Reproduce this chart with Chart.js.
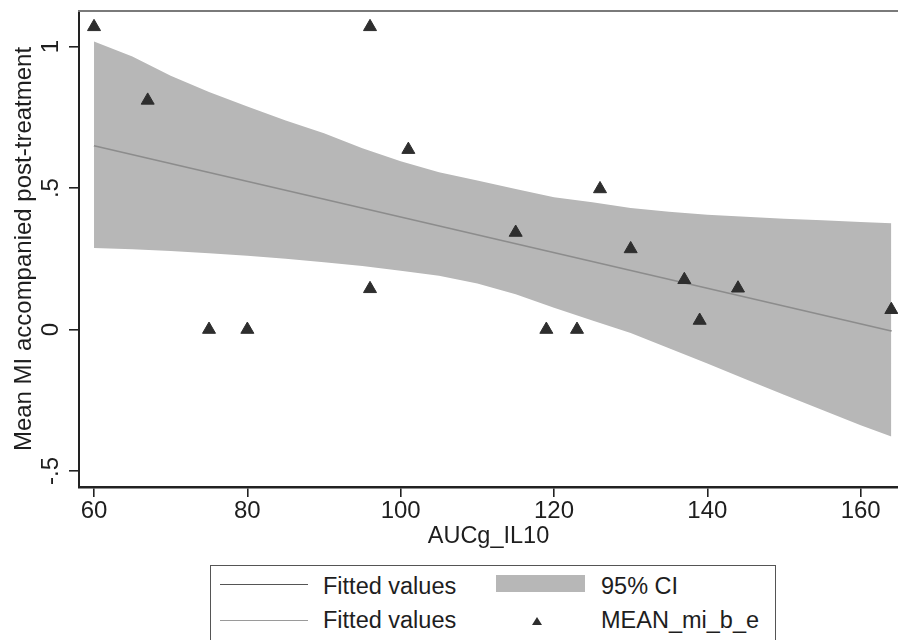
<!DOCTYPE html>
<html>
<head>
<meta charset="utf-8">
<script src="https://cdn.jsdelivr.net/npm/chart.js@4.4.1/dist/chart.umd.min.js"></script>
<style>
html,body{margin:0;padding:0;background:#fff;}
#wrap{position:relative;width:898px;height:640px;overflow:hidden;font-family:"Liberation Sans",Arial,sans-serif;color:#1e1e1e;}
#c{position:absolute;left:0;top:0;}
.lg-box{position:absolute;left:210px;top:565px;width:566px;height:100px;border:1.5px solid #555;box-sizing:border-box;}
.lg-line{position:absolute;left:220px;width:88px;height:0;}
.lg-text{position:absolute;font-size:23.5px;line-height:23.5px;white-space:nowrap;}
.lg-rect{position:absolute;left:496px;top:575px;width:89px;height:17px;background:#b7b7b7;}
.lg-tri{position:absolute;left:532px;top:617px;width:0;height:0;border-left:5px solid transparent;border-right:5px solid transparent;border-bottom:8.5px solid #2e2e2e;}
</style>
</head>
<body>
<div id="wrap">
  <canvas id="c" width="898" height="555"></canvas>
  <div class="lg-box"></div>
  <div class="lg-line" style="top:584px;border-top:1.6px solid #555;"></div>
  <div class="lg-text" style="left:323px;top:575px;">Fitted values</div>
  <div class="lg-rect"></div>
  <div class="lg-text" style="left:601px;top:575px;">95% CI</div>
  <div class="lg-line" style="top:620px;border-top:1.6px solid #9a9a9a;"></div>
  <div class="lg-text" style="left:323px;top:609px;">Fitted values</div>
  <div class="lg-tri"></div>
  <div class="lg-text" style="left:601px;top:609px;">MEAN_mi_b_e</div>
</div>
<script>
// ---- data ----
const xTicks = [60, 80, 100, 120, 140, 160];
const xTickLabels = ['60', '80', '100', '120', '140', '160'];
const yTicks = [-0.5, 0, 0.5, 1];
const yTickLabels = ['-.5', '0', '.5', '1'];

const pointX = [60, 67, 96, 101, 96, 75, 80, 115, 126, 130, 137, 144, 139, 119, 123, 164];
const pointY = [1.07, 0.81, 1.07, 0.636, 0.144, 0, 0, 0.343, 0.497, 0.285, 0.176, 0.146, 0.032, 0, 0, 0.07];

const fitX = [60, 164];
const fitY = [0.650, -0.005];

const ciX     = [60, 65, 70, 75, 80, 85, 90, 95, 100, 105, 110, 115, 120, 125, 130, 135, 140, 145, 150, 155, 160, 164];
const ciUpper = [1.018, 0.965, 0.897, 0.84, 0.788, 0.739, 0.694, 0.641, 0.595, 0.556, 0.527, 0.497, 0.468, 0.45, 0.43, 0.416, 0.406, 0.399, 0.392, 0.386, 0.38, 0.376];
const ciLower = [0.288, 0.284, 0.278, 0.27, 0.261, 0.25, 0.238, 0.225, 0.208, 0.19, 0.163, 0.125, 0.077, 0.032, -0.012, -0.066, -0.12, -0.176, -0.23, -0.284, -0.338, -0.378];

const xMin = 58.04, xMax = 164.87;
const yMin = -0.5565, yMax = 1.126;

const FONT = '"Liberation Sans", Arial, sans-serif';
const pts = (xs, ys) => xs.map((x, i) => ({x: x, y: ys[i]}));
const noPad = s => { s.paddingTop = 0; s.paddingBottom = 0; s.paddingLeft = 0; s.paddingRight = 0; };

new Chart(document.getElementById('c'), {
  type: 'scatter',
  data: {
    datasets: [
      {label: 'Fitted values', data: pts(fitX, fitY), showLine: true, borderColor: '#555', borderWidth: 1.6, pointRadius: 0, order: 5},
      {label: '95% CI', data: pts(ciX, ciUpper), showLine: true, borderWidth: 0, borderColor: 'rgba(0,0,0,0)', backgroundColor: '#b7b7b7', fill: '+1', pointRadius: 0, order: 4},
      {label: '95% CI lower', data: pts(ciX, ciLower), showLine: true, borderWidth: 0, borderColor: 'rgba(0,0,0,0)', pointRadius: 0, fill: false, order: 4},
      {label: 'Fitted values', data: pts(fitX, fitY), showLine: true, borderColor: '#8c8c8c', borderWidth: 1.6, pointRadius: 0, order: 2},
      {label: 'MEAN_mi_b_e', data: pts(pointX, pointY), showLine: false, pointStyle: 'triangle', pointRadius: 7.5, backgroundColor: '#2e2e2e', borderColor: '#2e2e2e', borderWidth: 1, order: 1}
    ]
  },
  options: {
    responsive: false,
    animation: false,
    layout: {autoPadding: false, padding: {top: 11, right: 0, bottom: 0, left: 0}},
    plugins: {legend: {display: false}, tooltip: {enabled: false}},
    scales: {
      x: {
        type: 'linear', position: 'bottom', min: xMin, max: xMax,
        afterBuildTicks: s => { s.ticks = xTicks.map(v => ({value: v})); },
        afterFit: s => { s.height = 68; noPad(s); },
        grid: {drawOnChartArea: false, drawTicks: true, tickLength: 10, color: '#222', lineWidth: 1.6},
        border: {display: true, color: '#222', width: 2.5},
        ticks: {font: {size: 24, family: FONT}, color: '#1e1e1e', padding: 0, maxRotation: 0, autoSkip: false,
                callback: (v, i) => xTickLabels[i]},
        title: {display: true, text: 'AUCg_IL10', font: {size: 23.5, family: FONT}, color: '#1e1e1e', padding: {top: 0, bottom: 4}}
      },
      y: {
        type: 'linear', position: 'left', min: yMin, max: yMax,
        afterBuildTicks: s => { s.ticks = yTicks.map(v => ({value: v})); },
        afterFit: s => { s.width = 79; noPad(s); },
        grid: {drawOnChartArea: false, drawTicks: true, tickLength: 10, color: '#222', lineWidth: 1.6},
        border: {display: true, color: '#222', width: 2},
        ticks: {font: {size: 24, family: FONT}, color: '#1e1e1e', padding: 4, minRotation: 90, maxRotation: 90,
                crossAlign: 'center', autoSkip: false, callback: (v, i) => yTickLabels[i]},
        title: {display: true, text: 'Mean MI accompanied post-treatment', font: {size: 24, family: FONT}, color: '#1e1e1e', padding: {top: 10, bottom: 0}}
      },
      x2: {
        type: 'linear', position: 'top', display: true,
        afterFit: s => { s.height = 0; noPad(s); },
        grid: {display: false, drawTicks: false},
        ticks: {display: false},
        border: {display: true, color: '#7a7a7a', width: 2}
      }
    }
  }
});
</script>
</body>
</html>
